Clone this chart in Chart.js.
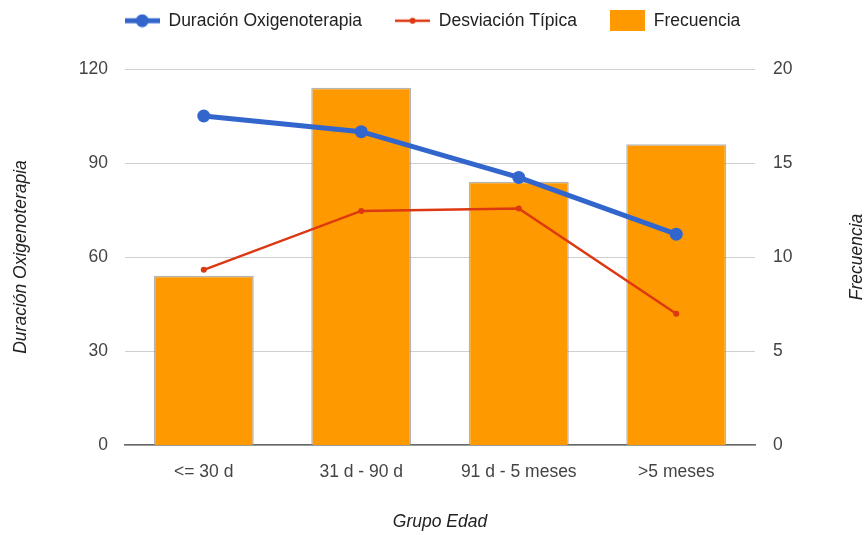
<!DOCTYPE html>
<html lang="es">
<head>
    <meta charset="UTF-8">
    <title>Duración Oxigenoterapia por Grupo Edad</title>
    <script src="https://cdn.jsdelivr.net/npm/chart.js"></script>
    <style>
        html, body { margin: 0; padding: 0; background: #fff; }
        #wrap { width: 865px; height: 535px; }
    </style>
</head>
<body>
    <div id="wrap"><canvas id="grafico"></canvas></div>

    <script>
        // Datos
        const grupos = ['<= 30 d', '31 d - 90 d', '91 d - 5 meses', '>5 meses'];
        const duracion = [105, 100, 85.4, 67.3];
        const desviacion = [55.9, 74.7, 75.5, 41.9];
        const frecuencia = [9, 19, 14, 16];
        const ticksIzq = [0, 30, 60, 90, 120];
        const ticksDer = [0, 5, 10, 15, 20];

        const AZUL = '#3366CC';
        const ROJO = '#DC3912';
        const NARANJA = '#FF9900';
        const FUENTE = "'Liberation Sans', Arial, sans-serif";
        const TAM = 17.5;

        // Iconos de la leyenda
        function icono(w, h, dibujar) {
            const c = document.createElement('canvas');
            c.width = w; c.height = h;
            dibujar(c.getContext('2d'));
            return c;
        }
        const iconoAzul = icono(35, 14, ctx => {
            ctx.fillStyle = AZUL;
            ctx.fillRect(0, 4.5, 35, 5);
            ctx.beginPath(); ctx.arc(17.5, 7, 6.5, 0, Math.PI * 2); ctx.fill();
        });
        const iconoRojo = icono(35, 8, ctx => {
            ctx.fillStyle = ROJO;
            ctx.fillRect(0, 2.75, 35, 2.5);
            ctx.beginPath(); ctx.arc(17.5, 4, 3, 0, Math.PI * 2); ctx.fill();
        });
        const iconoNaranja = icono(35, 21, ctx => {
            ctx.fillStyle = NARANJA;
            ctx.fillRect(0, 0, 35, 21);
        });
        const iconos = [iconoAzul, iconoRojo, iconoNaranja];

        // Ajuste de la altura de la leyenda
        const altoLeyenda = {
            id: 'altoLeyenda',
            beforeInit(chart) {
                const fitOriginal = chart.legend.fit;
                chart.legend.fit = function () {
                    fitOriginal.bind(chart.legend)();
                    this.height = 90;
                };
            }
        };

        // Título del eje derecho (de abajo hacia arriba)
        const tituloDerecho = {
            id: 'tituloDerecho',
            afterDraw(chart) {
                const { ctx, chartArea } = chart;
                ctx.save();
                ctx.translate(857, (chartArea.top + chartArea.bottom) / 2);
                ctx.rotate(-Math.PI / 2);
                ctx.font = 'italic ' + TAM + 'px ' + FUENTE;
                ctx.fillStyle = '#222';
                ctx.textAlign = 'center';
                ctx.textBaseline = 'middle';
                ctx.fillText('Frecuencia', 0, 0);
                ctx.restore();
            }
        };

        new Chart(document.getElementById('grafico'), {
            data: {
                labels: grupos,
                datasets: [
                    {
                        type: 'line',
                        label: 'Duración Oxigenoterapia',
                        data: duracion,
                        yAxisID: 'y',
                        borderColor: AZUL,
                        backgroundColor: AZUL,
                        borderWidth: 5,
                        pointRadius: 6.5,
                        pointBorderWidth: 0,
                        order: 0
                    },
                    {
                        type: 'line',
                        label: 'Desviación Típica',
                        data: desviacion,
                        yAxisID: 'y',
                        borderColor: ROJO,
                        backgroundColor: ROJO,
                        borderWidth: 2.5,
                        pointRadius: 3,
                        pointBorderWidth: 0,
                        order: 1
                    },
                    {
                        type: 'bar',
                        label: 'Frecuencia',
                        data: frecuencia,
                        yAxisID: 'y1',
                        backgroundColor: NARANJA,
                        borderColor: 'rgba(150,150,150,0.7)',
                        borderWidth: 1.5,
                        barPercentage: 0.635,
                        categoryPercentage: 1,
                        order: 2
                    }
                ]
            },
            options: {
                responsive: true,
                maintainAspectRatio: false,
                animation: false,
                layout: { padding: { top: -21, left: 0, right: 0, bottom: 0 } },
                plugins: {
                    tooltip: { enabled: false },
                    legend: {
                        position: 'top',
                        labels: {
                            usePointStyle: true,
                            pointStyleWidth: 35,
                            padding: 33,
                            color: '#222',
                            font: { family: FUENTE, size: TAM },
                            generateLabels(chart) {
                                return chart.data.datasets.map((ds, i) => ({
                                    text: ds.label,
                                    pointStyle: iconos[i],
                                    fillStyle: NARANJA,
                                    strokeStyle: 'transparent',
                                    lineWidth: 0,
                                    fontColor: '#222',
                                    datasetIndex: i
                                }));
                            }
                        }
                    }
                },
                scales: {
                    x: {
                        grid: { display: false },
                        border: { display: true, color: '#666', width: 1.5 },
                        ticks: {
                            color: '#444',
                            padding: 9,
                            maxRotation: 0,
                            font: { family: FUENTE, size: TAM }
                        },
                        title: {
                            display: true,
                            text: 'Grupo Edad',
                            color: '#222',
                            padding: { top: 0, bottom: 2 },
                            font: { family: FUENTE, size: TAM, style: 'italic' }
                        },
                        afterFit(scale) { scale.height = 90; }
                    },
                    y: {
                        position: 'left',
                        min: 0,
                        max: 120,
                        afterBuildTicks(scale) { scale.ticks = ticksIzq.map(v => ({ value: v })); },
                        grid: { color: '#d0d0d0', drawTicks: false },
                        border: { display: false },
                        ticks: {
                            color: '#444',
                            padding: 17,
                            font: { family: FUENTE, size: TAM }
                        },
                        title: {
                            display: true,
                            text: 'Duración Oxigenoterapia',
                            color: '#222',
                            padding: { top: 11, bottom: 0 },
                            font: { family: FUENTE, size: TAM, style: 'italic' }
                        },
                        afterFit(scale) { scale.width = 125; }
                    },
                    y1: {
                        position: 'right',
                        min: 0,
                        max: 20,
                        afterBuildTicks(scale) { scale.ticks = ticksDer.map(v => ({ value: v })); },
                        grid: { display: false, drawTicks: false },
                        border: { display: false },
                        ticks: {
                            color: '#444',
                            padding: 18,
                            font: { family: FUENTE, size: TAM }
                        },
                        afterFit(scale) { scale.width = 110; }
                    }
                }
            },
            plugins: [altoLeyenda, tituloDerecho]
        });
    </script>
</body>
</html>
